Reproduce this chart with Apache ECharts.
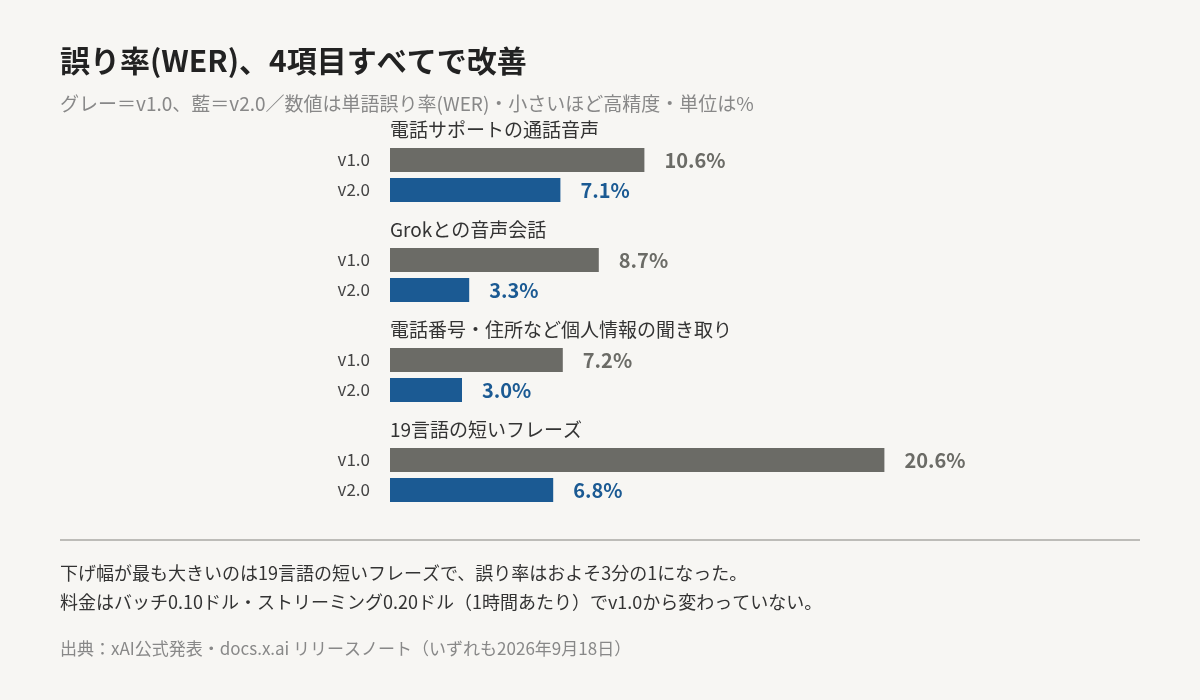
<!DOCTYPE html>
<html>
<head>
<meta charset="utf-8">
<script src="https://cdn.jsdelivr.net/npm/echarts@6/dist/echarts.min.js"></script>
<style>
  html, body { margin: 0; padding: 0; background: #f7f6f3; }
  #chart { width: 1200px; height: 700px; }
</style>
</head>
<body>
<div id="chart"></div>
<script>
(function () {

  'use strict';

  var groups = ['電話サポートの通話音声', 'Grokとの音声会話', '電話番号・住所など個人情報の聞き取り', '19言語の短いフレーズ'];
  var versions = ['v1.0', 'v2.0'];
  var v1Values = [10.6, 8.7, 7.2, 20.6];
  var v2Values = [7.1, 3.3, 3.0, 6.8];

  var FONT = '"Noto Sans CJK JP", "Noto Sans", sans-serif';
  var GRAY = '#6b6b66';
  var BLUE = '#1b5a93';

  var grids = [], xAxes = [], yAxes = [], series = [], graphics = [];

  groups.forEach(function (name, i) {
    var top = 145 + i * 100;
    grids.push({ left: 390, width: 600, top: top, height: 60 });
    xAxes.push({ gridIndex: i, type: 'value', min: 0, max: 25, show: false });
    yAxes.push({
      gridIndex: i, type: 'category', data: versions, inverse: true,
      axisLine: { show: false }, axisTick: { show: false },
      axisLabel: { fontFamily: FONT, fontSize: 17, color: '#444', margin: 20 }
    });
    series.push({
      type: 'bar', xAxisIndex: i, yAxisIndex: i, barWidth: 24,
      data: [
        { value: v1Values[i], itemStyle: { color: GRAY }, label: { color: GRAY } },
        { value: v2Values[i], itemStyle: { color: BLUE }, label: { color: BLUE } }
      ],
      label: {
        show: true, position: 'right', distance: 20,
        fontFamily: FONT, fontSize: 20, fontWeight: 'bold',
        formatter: function (p) { return p.value.toFixed(1) + '%'; }
      },
      silent: true
    });
    // group heading above each pair of bars
    graphics.push({
      type: 'text', left: 390, top: top - 25,
      style: { text: name, font: '19px ' + FONT, fill: '#333' }
    });
  });

  graphics.push(
    { type: 'rect', shape: { x: 60, y: 539, width: 1080, height: 2 }, style: { fill: '#bdbcb8' } },
    { type: 'text', left: 60, top: 564, style: { text: '下げ幅が最も大きいのは19言語の短いフレーズで、誤り率はおよそ3分の1になった。', font: '18px ' + FONT, fill: '#333' } },
    { type: 'text', left: 60, top: 593, style: { text: '料金はバッチ0.10ドル・ストリーミング0.20ドル（1時間あたり）でv1.0から変わっていない。', font: '18px ' + FONT, fill: '#333' } },
    { type: 'text', left: 60, top: 640, style: { text: '出典：xAI公式発表・docs.x.ai リリースノート（いずれも2026年9月18日）', font: '17px ' + FONT, fill: '#888' } }
  );

  var chart = echarts.init(document.getElementById('chart'));
  chart.setOption({
    backgroundColor: '#f7f6f3',
    animation: false,
    title: [{
      text: '誤り率(WER)、4項目すべてで改善',
      left: 60, top: 46, padding: 0,
      textStyle: { fontFamily: FONT, fontSize: 30, fontWeight: 'bold', color: '#222' }
    }, {
      text: 'グレー＝v1.0、藍＝v2.0／数値は単語誤り率(WER)・小さいほど高精度・単位は%',
      left: 60, top: 94, padding: 0,
      textStyle: { fontFamily: FONT, fontSize: 19, fontWeight: 'normal', color: '#888' }
    }],
    grid: grids,
    xAxis: xAxes,
    yAxis: yAxes,
    series: series,
    graphic: graphics
  });

})();
</script>
</body>
</html>
